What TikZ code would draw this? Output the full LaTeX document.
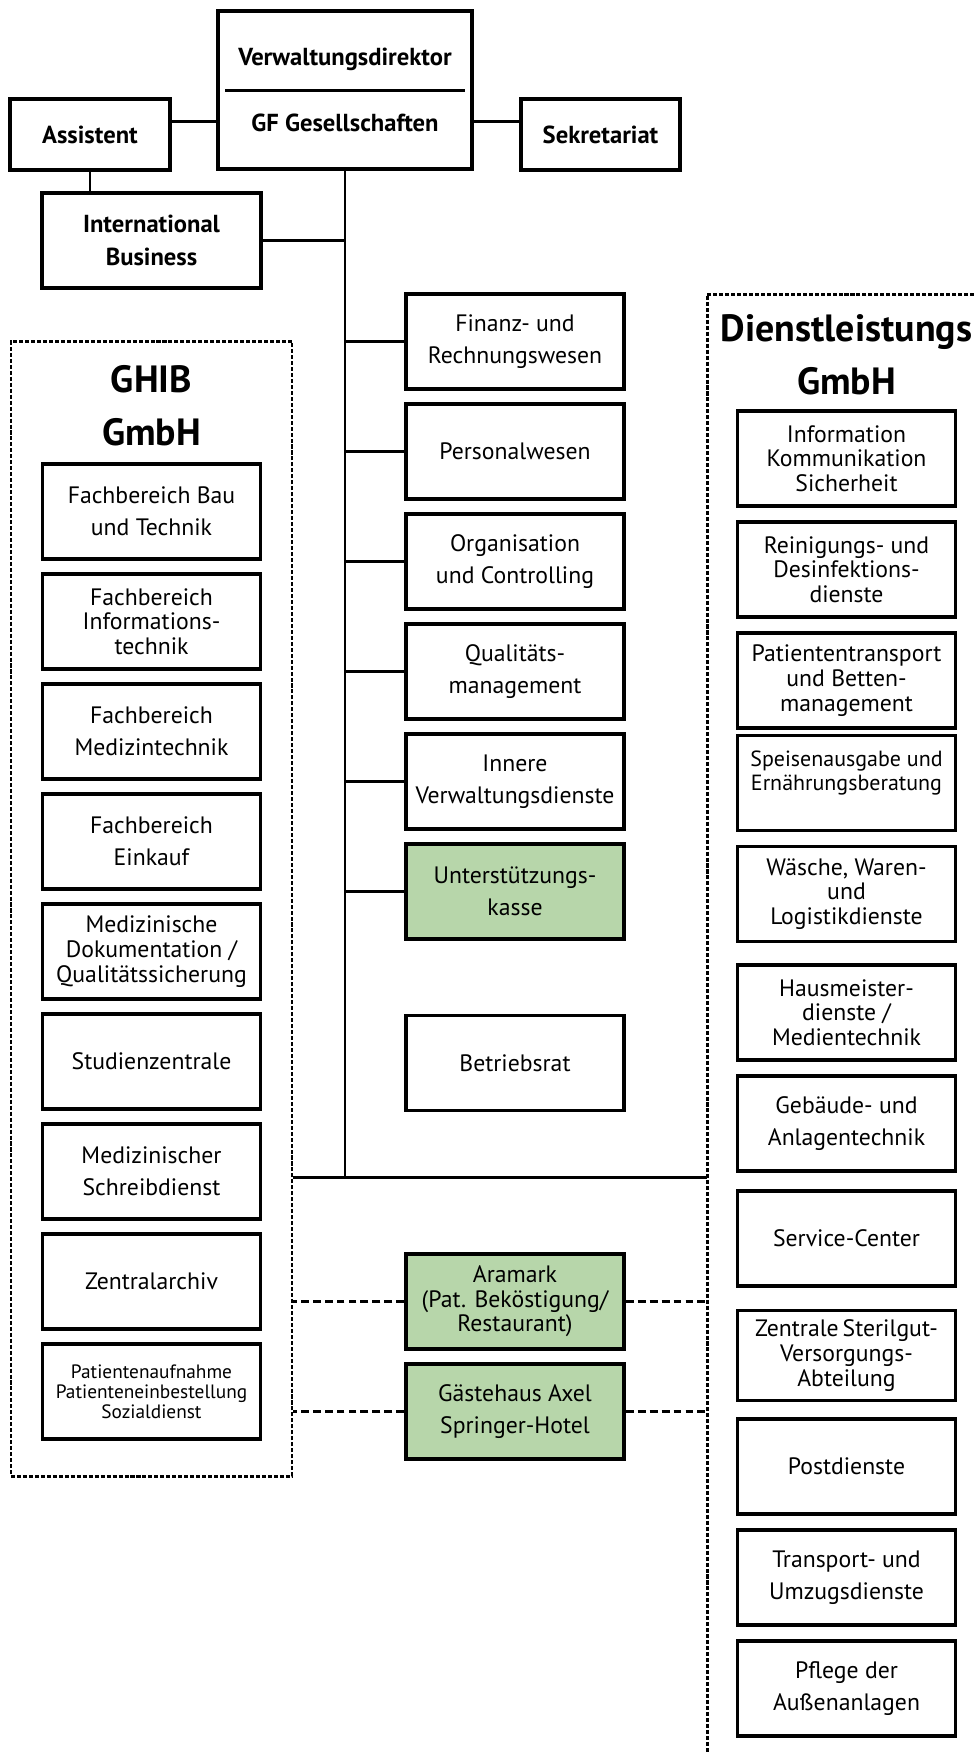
\documentclass[tikz,border=0pt]{standalone}
\usepackage{fontspec}
\setmainfont{PT Sans}
\usepackage{tikz}
\definecolor{kassegreen}{RGB}{183,214,170}
\newcommand{\topfont}{\fontsize{14}{19}\selectfont\bfseries}
\newcommand{\deptfont}{\fontsize{13.5}{18}\selectfont}
\newcommand{\packedfont}{\fontsize{13.5}{14}\selectfont}
\newcommand{\finefont}{\fontsize{11}{11.5}\selectfont}
\newcommand{\gmbhfont}{\fontsize{21.6}{30}\selectfont\bfseries}
\tikzstyle{chief}=[rectangle,minimum width=5.08cm,minimum height=3.16cm,align=center,
draw=black,line width=2pt,font=\fontsize{14}{37.5}\selectfont\bfseries]
\tikzstyle{staff}=[rectangle,minimum width=3.2cm,minimum height=1.42cm,align=center,
draw=black,line width=2pt,font=\topfont]
\tikzstyle{dept}=[rectangle,minimum width=4.36cm,minimum height=1.9cm,inner sep=2pt,align=center,
draw=black,line width=2pt,font=\deptfont]
\tikzstyle{packed}=[dept,font=\packedfont]
\tikzstyle{kasse}=[dept,fill=kassegreen]
\tikzstyle{gmbh}=[draw=black,line width=1.7pt,dash pattern=on 2.3pt off 1.1pt]
\tikzstyle{wire}=[line width=1.7pt]
\tikzstyle{link}=[line width=1.7pt,dash pattern=on 4.5pt off 2.3pt]

\begin{document}
\begin{tikzpicture}[node distance=2.2cm]
        \useasboundingbox (0,0) rectangle (19.48,-35.06);

        % Leitung
        \node (chief) [chief] at (6.9,-1.8) {Verwaltungsdirektor\\GF Gesellschaften};
        \node (asst) [staff] at (1.8,-2.69) {Assistent};
        \node (sek) [staff,minimum width=3.18cm] at (12.01,-2.69) {Sekretariat};
        \node (ib) [staff,minimum width=4.38cm,minimum height=1.9cm] at (3.03,-4.81) {International\\Business};
        \draw [wire] ([xshift=0.18cm]chief.west) -- ([xshift=-0.18cm]chief.east);

        % Stabsstellen
        \node (finanz) [dept] at (10.3,-6.83) {Finanz- und\\Rechnungswesen};
        \node (personal) [dept,below of=finanz] {Personalwesen};
        \node (orga) [dept,below of=personal] {Organisation\\und Controlling};
        \node (quali) [dept,below of=orga] {Qualitäts-\\management};
        \node (innere) [dept,below of=quali] {Innere\\Verwaltungsdienste};
        \node (kasse) [kasse,below of=innere] {Unterstützungs-\\kasse};
        \node (rat) [dept,below of=kasse,yshift=-1.23cm] {Betriebsrat};
        \node (aramark) [kasse,font=\packedfont,below of=rat,yshift=-2.57cm] {Aramark\\(Pat. Beköstigung/\\Restaurant)};
        \node (hotel) [kasse,below of=aramark] {Gästehaus Axel\\Springer-Hotel};

        % GHIB GmbH
        \node (ghibtitle) [font=\gmbhfont,align=center] at (3.03,-8.11) {GHIB\\GmbH};
        \node (bau) [dept] at (3.03,-10.23) {Fachbereich Bau\\und Technik};
        \node (it) [packed,below of=bau] {Fachbereich\\Informations-\\technik};
        \node (mt) [dept,below of=it] {Fachbereich\\Medizintechnik};
        \node (einkauf) [dept,below of=mt] {Fachbereich\\Einkauf};
        \node (doku) [packed,below of=einkauf] {Medizinische\\Dokumentation /\\Qualitätssicherung};
        \node (studien) [dept,below of=doku] {Studienzentrale};
        \node (schreib) [dept,below of=studien] {Medizinischer\\Schreibdienst};
        \node (archiv) [dept,below of=schreib] {Zentralarchiv};
        \node (aufnahme) [dept,font=\finefont,below of=archiv] {Patientenaufnahme\\Patienteneinbestellung\\Sozialdienst};
        \node (ghib) [gmbh,minimum width=5.62cm,minimum height=22.7cm] at (3.03,-18.17) {};

        % Dienstleistungs GmbH
        \begin{scope}[node distance=2.22cm]
        \node (dltitle) [font=\gmbhfont,align=center] at (16.93,-7.1) {Dienstleistungs\\GmbH};
        \node (iks) [packed] at (16.93,-9.17) {Information\\Kommunikation\\Sicherheit};
        \node (reinigung) [packed,below of=iks] {Reinigungs- und\\Desinfektions-\\dienste};
        \node (transport) [packed,below of=reinigung] {Patiententransport\\und Betten-\\management};
        \node (speisen) [dept,font=\fontsize{12.5}{14}\selectfont,below of=transport,yshift=0.17cm] {Speisenausgabe und\\Ernährungsberatung\\~};
        \node (waesche) [packed,below of=speisen] {Wäsche, Waren-\\und\\Logistikdienste};
        \node (haus) [packed,below of=waesche,yshift=-0.15cm] {Hausmeister-\\dienste /\\Medientechnik};
        \node (gebaeude) [dept,below of=haus] {Gebäude- und\\Anlagentechnik};
        \node (service) [dept,below of=gebaeude,yshift=-0.08cm] {Service-Center};
        \node (zsva) [packed,minimum height=1.8cm,below of=service,yshift=-0.12cm] {Zentrale\,Sterilgut-\\Versorgungs-\\Abteilung};
        \node (post) [dept,below of=zsva] {Postdienste};
        \node (umzug) [dept,below of=post] {Transport- und\\Umzugsdienste};
        \node (pflege) [dept,below of=umzug] {Pflege der\\Außenanlagen};
        \end{scope}
        \coordinate (dlcorner) at (14.14,-5.88);
        \draw [gmbh] (19.48,-5.88) -- (dlcorner) -- (14.14,-35.06);

        % Linien
        \coordinate (bus) at (6.88,-23.54);
        \draw [wire] ([yshift=0.27cm]asst.east) -- ([yshift=0.27cm]asst.east -| chief.west);
        \draw [wire] ([yshift=0.27cm]sek.west) -- ([yshift=0.27cm]sek.west -| chief.east);
        \draw [wire] (asst.south) -- (asst.south |- ib.north);
        \draw [wire] (chief.south) -- (chief.south |- bus);
        \draw [wire] (ghib.east |- bus) -- (bus -| dlcorner);
        \draw [wire] (ib.east) -- (ib.east -| chief.south);
        \foreach \n in {finanz,personal,orga,quali,innere,kasse}
            \draw [wire] (\n.west) -- (\n.west -| chief.south);
        \draw [link] (aramark.west) -- (aramark.west -| ghib.east);
        \draw [link] (aramark.east) -- (aramark.east -| dlcorner);
        \draw [link] (hotel.west) -- (hotel.west -| ghib.east);
        \draw [link] (hotel.east) -- (hotel.east -| dlcorner);

\end{tikzpicture}
\end{document}
